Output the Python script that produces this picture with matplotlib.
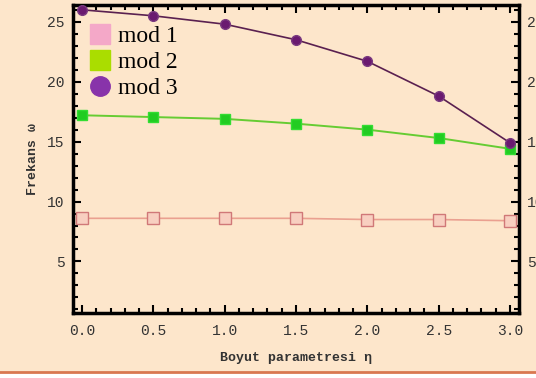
import matplotlib
matplotlib.use("Agg")
import matplotlib.pyplot as plt
from matplotlib.lines import Line2D
from matplotlib.ticker import MultipleLocator

eta = [0.0, 0.5, 1.0, 1.5, 2.0, 2.5, 3.0]
mod1 = [8.6, 8.6, 8.6, 8.6, 8.5, 8.5, 8.4]
mod2 = [17.2, 17.05, 16.9, 16.5, 16.0, 15.3, 14.4]
mod3 = [26.0, 25.5, 24.8, 23.5, 21.7, 18.8, 14.9]
labels = ["mod 1", "mod 2", "mod 3"]
xticks = [0.0, 0.5, 1.0, 1.5, 2.0, 2.5, 3.0]
yticks = [5, 10, 15, 20, 25]

W, H = 536, 378
fig = plt.figure(figsize=(W / 100, H / 100), dpi=100)
fig.patch.set_facecolor("#FDE6CB")

# bottom orange rule and white strip
fig.add_artist(plt.Rectangle((0, 0), 1, 6 / H, transform=fig.transFigure,
                             color="white", zorder=0))
fig.add_artist(Line2D([0, 1], [6 / H, 6 / H], transform=fig.transFigure,
                      color="#D97850", lw=2))

left, right, top, bottom = 73, 519, 5, 313
ax = fig.add_axes([left / W, (H - bottom) / H, (right - left) / W, (bottom - top) / H])
ax.set_facecolor("#FDE6CB")

ax.plot(eta, mod1, color="#EAA090", lw=1.2, marker="s", ms=8,
        mfc="#F8CFC0", mec="#D07878", mew=1.0, zorder=3)
ax.plot(eta, mod2, color="#66CC33", lw=1.4, marker="s", ms=7,
        mfc="#22CC22", mec="#33DD33", zorder=3)
ax.plot(eta, mod3, color="#5A2050", lw=1.2, marker="o", ms=7,
        mfc="#6A1A70", mec="#7A3A80", zorder=3)

ax.set_xlim(-0.063, 3.063)
ax.set_ylim(0.7, 26.4)
ax.set_xticks(xticks)
ax.set_xticklabels([f"{v:.1f}" for v in xticks])
ax.set_yticks(yticks)
ax.xaxis.set_minor_locator(MultipleLocator(0.1))
ax.yaxis.set_minor_locator(MultipleLocator(1))

mono = "Liberation Mono"
tfs = 10.5
ax.tick_params(which="both", direction="in", top=True, right=True,
               labelright=True, color="black", width=1.5)
ax.tick_params(which="major", length=6)
ax.tick_params(which="minor", length=3.5)
ax.tick_params(axis="x", pad=8)
ax.tick_params(axis="y", pad=6)
for lab in ax.get_xticklabels() + ax.get_yticklabels():
    lab.set_fontfamily(mono)
    lab.set_fontsize(tfs)
    lab.set_color("#333333")
for t in ax.yaxis.get_major_ticks():
    t.label2.set_fontfamily(mono)
    t.label2.set_fontsize(tfs)
    t.label2.set_color("#333333")
for s in ax.spines.values():
    s.set_linewidth(2.5)
    s.set_color("black")

ax.set_xlabel("Boyut parametresi η", fontfamily=mono, fontsize=9.5,
              fontweight="bold", color="#333333", labelpad=10)
ax.set_ylabel("Frekans ω", fontfamily=mono, fontsize=9.5,
              fontweight="bold", color="#333333", labelpad=6)

handles = [
    Line2D([], [], ls="none", marker="s", ms=15, mfc="#F4A8C8", mec="#F4A8C8"),
    Line2D([], [], ls="none", marker="s", ms=15, mfc="#AADD00", mec="#AADD00"),
    Line2D([], [], ls="none", marker="o", ms=14, mfc="#8833AA", mec="#8833AA"),
]
leg = ax.legend(handles, labels, loc="upper left", bbox_to_anchor=(0.0, 0.98),
                frameon=False, prop={"family": "Liberation Serif", "size": 17},
                handletextpad=0.2, labelspacing=0.2, handlelength=1.1,
                borderaxespad=0.2)

fig.savefig("out.png", dpi=100, facecolor=fig.get_facecolor())
